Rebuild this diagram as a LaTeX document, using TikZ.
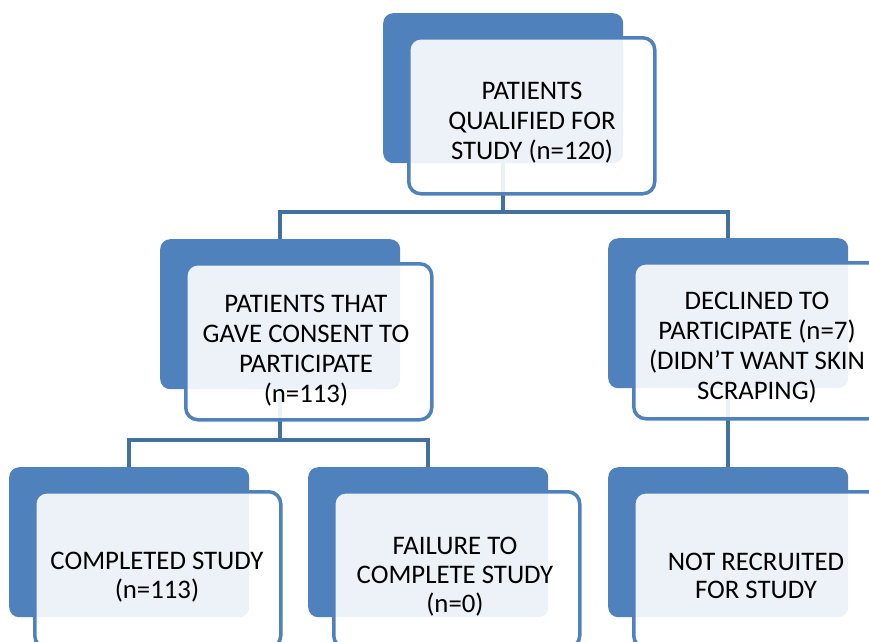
\documentclass[tikz,border=0pt]{standalone}
\usepackage{fontspec}
\setmainfont{Carlito}
\usetikzlibrary{backgrounds}
\definecolor{boxblue}{HTML}{4F81BD}
\definecolor{linkblue}{HTML}{41719C}
\tikzset{every node/.style={font=\fontsize{26.8}{30}\selectfont}}

\begin{document}
\begin{tikzpicture}[x=1pt, y=-1pt,
  back/.style={fill=boxblue, rounded corners=10pt, inner sep=0pt,
    minimum width=240pt, minimum height=150pt, anchor=north west},
  front/.style={draw=boxblue, line width=3.5pt, fill=white, fill opacity=0.9,
    rounded corners=12pt, inner sep=0pt,
    minimum width=246pt, minimum height=156pt, anchor=north west},
  boxtext/.style={align=center, anchor=north, inner sep=0pt},
  link/.style={draw=linkblue, line width=4pt}]
  \useasboundingbox (0,0) rectangle (869,641);
  % back and front boxes
  \foreach \n/\x/\y in {qualified/383/13, consent/160/239, declined/608/238,
      completed/9/467, failure/308/467, notrec/608/467} {
    \node[back] (\n) at (\x,\y) {};
    \node[front] (\n-f) at (\x+24,\y+23) {};
  }
  % texts
  \node[boxtext] (qualified-t) at (532,82) {PATIENTS\\QUALIFIED FOR\\STUDY (n=120)};
  \node[boxtext] (consent-t) at (306,295) {PATIENTS THAT\\GAVE CONSENT TO\\PARTICIPATE\\(n=113)};
  \node[boxtext] (declined-t) at (757,292) {DECLINED TO\\PARTICIPATE (n=7)\\(DIDN’T WANT SKIN\\SCRAPING)};
  \node[boxtext, font=\fontsize{26.8}{28.5}\selectfont] (completed-t) at (157,552) {COMPLETED STUDY\\(n=113)};
  \node[boxtext, font=\fontsize{26.8}{29}\selectfont] (failure-t) at (455,537) {FAILURE TO\\COMPLETE STUDY\\(n=0)};
  \node[boxtext, font=\fontsize{26.8}{28}\selectfont] (notrec-t) at (756,553) {NOT RECRUITED\\FOR STUDY};
  % connectors
  \begin{scope}[on background layer]
    \draw[link] (qualified.south) -- ++(0,49) -| (consent.north);
    \draw[link] (qualified.south) -- ++(0,49) -| (declined.north);
    \draw[link] (consent.south) -- ++(0,51) -| (completed.north);
    \draw[link] (consent.south) -- ++(0,51) -| (failure.north);
    \draw[link] (declined.south) -- (notrec.north);
  \end{scope}
\end{tikzpicture}
\end{document}
